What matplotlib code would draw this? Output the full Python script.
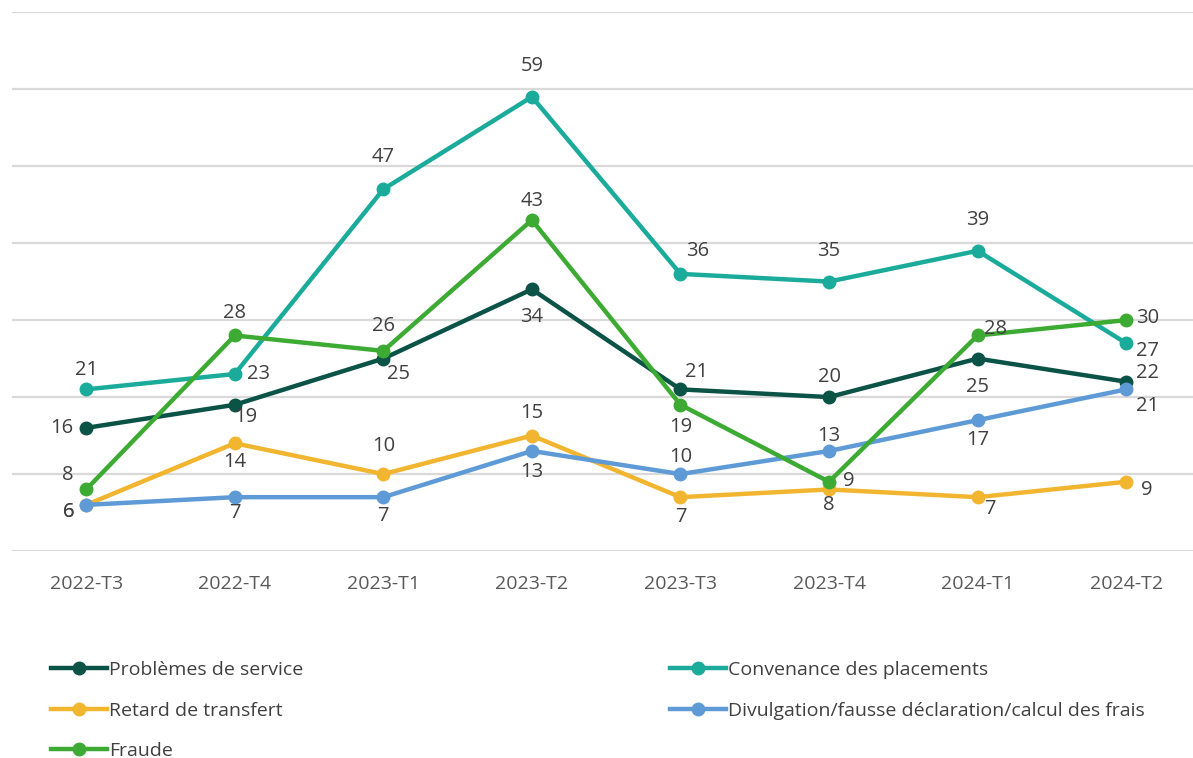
import matplotlib
matplotlib.use("Agg")
import matplotlib.pyplot as plt

# Data
quarters = ["2022-T3", "2022-T4", "2023-T1", "2023-T2",
            "2023-T3", "2023-T4", "2024-T1", "2024-T2"]

service = [16, 19, 25, 34, 21, 20, 25, 22]
placements = [21, 23, 47, 59, 36, 35, 39, 27]
transfert = [6, 14, 10, 15, 7, 8, 7, 9]
divulgation = [6, 7, 7, 13, 10, 13, 17, 21]
fraude = [8, 28, 26, 43, 19, 9, 28, 30]

names = ["Problèmes de service", "Convenance des placements",
         "Retard de transfert",
         "Divulgation/fausse déclaration/calcul des frais", "Fraude"]

# Styles and label offsets (pixels, relative to each point)
colors = ["#0b5247", "#1aab9b", "#f2b530", "#5e9bd6", "#3dab33"]
offsets = [
    [(-24, 0), (11, -12), (15, -15), (0, -28), (16, 17), (0, 20), (0, -28), (21, 9)],
    [(0, 19), (24, 0), (0, 32), (0, 31), (17, 23), (0, 31), (0, 31), (21, -8)],
    [(-18, -7), (0, -19), (0, 28), (0, 23), (0, -20), (0, -16), (12, -12), (21, -8)],
    [(-18, -7), (0, -16), (0, -19), (0, -21), (0, 17), (0, 15), (0, -20), (21, -17)],
    [(-18, 14), (0, 22), (0, 25), (0, 19), (0, -22), (20, 1), (18, 6), (21, 2)],
]


def main():
    plt.rcParams["font.family"] = ["Open Sans", "DejaVu Sans"]
    fig = plt.figure(figsize=(11.93, 7.58), dpi=100)
    ax = fig.add_axes([0.01, 0.273, 0.99, 0.711])

    series = [service, placements, transfert, divulgation, fraude]
    x = range(len(quarters))
    handles = []
    for values, name, color, offs in zip(series, names, colors, offsets):
        line, = ax.plot(x, values, color=color, lw=3.2, marker="o",
                        markersize=9, label=name, zorder=3)
        handles.append(line)
        for xi, v, (dx, dy) in zip(x, values, offs):
            ax.annotate(str(v), (xi, v), xytext=(dx, dy),
                        textcoords="offset pixels", ha="center",
                        va="center", fontsize=14.5, color="#404040")

    ax.set_xlim(-0.5, 7.45)
    ax.set_ylim(0, 70)
    ax.set_yticks(range(0, 71, 10))
    ax.set_yticklabels([])
    ax.tick_params(axis="y", length=0)
    ax.tick_params(axis="x", length=0, pad=17, labelsize=14,
                   labelcolor="#595959")
    ax.set_xticks(list(x))
    ax.set_xticklabels(quarters)
    ax.grid(axis="y", color="#d9d9d9", lw=1.6)
    ax.set_axisbelow(True)
    for side in ["top", "right", "left", "bottom"]:
        ax.spines[side].set_visible(False)

    # Legend in two separate blocks
    leg_kw = dict(frameon=False, fontsize=14, handlelength=2.9,
                  handletextpad=0.1, labelspacing=1.15,
                  labelcolor="#404040", borderaxespad=0)
    left = [handles[0], handles[2], handles[4]]
    right = [handles[1], handles[3]]
    fig.legend(left, [h.get_label() for h in left], loc="upper left",
               bbox_to_anchor=(0.036, 0.138), **leg_kw)
    fig.legend(right, [h.get_label() for h in right], loc="upper left",
               bbox_to_anchor=(0.555, 0.138), **leg_kw)

    fig.savefig("out.png", dpi=100)


if __name__ == "__main__":
    main()
